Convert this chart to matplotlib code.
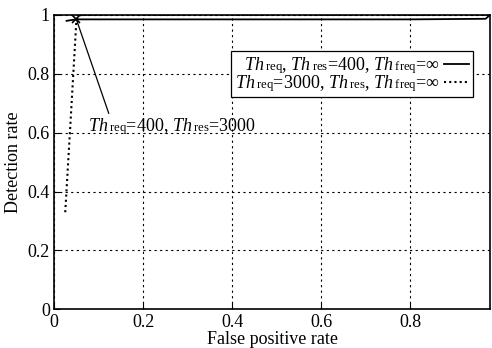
import matplotlib
matplotlib.use("Agg")
import matplotlib.pyplot as plt

try:
    import matplotlib._mathtext as _mt
    _mt.FontConstantsBase.sub1 = 0.0
except Exception:
    pass

plt.rcParams['font.family'] = ['Liberation Serif', 'DejaVu Serif']
plt.rcParams['mathtext.fontset'] = 'custom'
plt.rcParams['mathtext.rm'] = 'Liberation Serif'
plt.rcParams['mathtext.it'] = 'Liberation Serif:italic'
plt.rcParams['mathtext.fallback'] = 'stix'

# data
solid_fpr = [0.028, 0.04, 0.05, 0.2, 0.5, 0.8, 0.97, 0.98]
solid_det = [0.98, 0.983, 0.985, 0.985, 0.985, 0.985, 0.987, 1.0]
dotted_fpr = [0.025, 0.037, 0.05, 0.06, 0.5, 0.98]
dotted_det = [0.33, 0.64, 0.98, 1.0, 1.0, 1.0]
point_fpr = 0.05
point_det = 0.985
xticks = [0, 0.2, 0.4, 0.6, 0.8]
yticks = [0, 0.2, 0.4, 0.6, 0.8, 1]

fig = plt.figure(figsize=(4.92, 3.48), dpi=100)
ax = fig.add_axes([0.11, 0.111, 0.886, 0.846])

ax.plot(solid_fpr, solid_det, color='black', lw=1.3,
        label=r'$Th\,_{\rm req}$, $Th\,_{\rm res}$=400, $Th\,_{\rm freq}$=$\infty$')
ax.plot(dotted_fpr, dotted_det, color='black', lw=1.5, linestyle=(0, (1, 1.5)),
        label=r'$Th\,_{\rm req}$=3000, $Th\,_{\rm res}$, $Th\,_{\rm freq}$=$\infty$')
ax.plot([point_fpr], [point_det], marker='x', color='black', ms=6, mew=1.2, linestyle='none')
ax.annotate(r'$Th\,_{\rm req}$=400, $Th\,_{\rm res}$=3000', xy=(point_fpr, point_det),
            xytext=(0.076, 0.605), fontsize=13,
            arrowprops=dict(arrowstyle='-', color='black', lw=0.9, shrinkA=0, shrinkB=0,
                            relpos=(0.13, 1.0)))

ax.set_xlim(0, 0.98)
ax.set_ylim(0, 1.0)
ax.set_xticks(xticks)
ax.set_xticklabels(['0', '0.2', '0.4', '0.6', '0.8'])
ax.set_yticks(yticks)
ax.set_yticklabels(['0', '0.2', '0.4', '0.6', '0.8', '1'])
ax.tick_params(direction='in', length=4, width=0.8, labelsize=13, pad=3,
               top=False, right=False)
ax.grid(True, color='black', linestyle=(0, (2, 3)), lw=0.8)
for s in ax.spines.values():
    s.set_color('black')
    s.set_linewidth(1.2)
ax.set_xlabel('False positive rate', fontsize=13, labelpad=0)
ax.set_ylabel('Detection rate', fontsize=13, labelpad=4)

leg = ax.legend(loc='upper right', bbox_to_anchor=(0.961, 0.878), fontsize=13,
                markerfirst=False, fancybox=False, framealpha=1, edgecolor='black',
                handlelength=1.4, handletextpad=0.2, borderpad=0.22, labelspacing=-0.08,
                borderaxespad=0.0)
leg.get_frame().set_linewidth(0.9)

fig.savefig('out.png', dpi=100)
